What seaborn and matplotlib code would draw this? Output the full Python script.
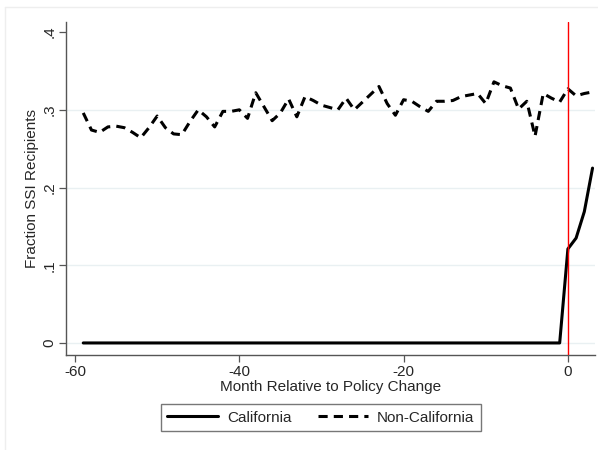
import numpy as np
import pandas as pd
import matplotlib
matplotlib.use("Agg")
import matplotlib.pyplot as plt
import seaborn as sns
from matplotlib.lines import Line2D

# Months relative to the policy change
months = list(range(-59, 4))

# Fraction of SSI recipients, California
california = [0.0] * 59 + [0.121, 0.135, 0.169, 0.225]

# Fraction of SSI recipients, other states
non_california = [
    0.296, 0.274, 0.271, 0.278, 0.279, 0.277, 0.271, 0.264, 0.277, 0.292,
    0.277, 0.269, 0.268, 0.285, 0.300, 0.291, 0.278, 0.298, 0.298, 0.300,
    0.289, 0.322, 0.304, 0.286, 0.296, 0.314, 0.291, 0.317, 0.312, 0.306,
    0.303, 0.300, 0.315, 0.300, 0.310, 0.320, 0.330, 0.308, 0.293, 0.313,
    0.311, 0.304, 0.298, 0.311, 0.311, 0.312, 0.317, 0.319, 0.321, 0.308,
    0.336, 0.331, 0.328, 0.301, 0.311, 0.266, 0.321, 0.315, 0.310, 0.327,
    0.318, 0.321, 0.323,
]

groups = ["California", "Non-California"]
x_ticks = [-60, -40, -20, 0]
y_ticks = [0, 0.1, 0.2, 0.3, 0.4]
y_tick_labels = ["0", ".1", ".2", ".3", ".4"]

df = pd.DataFrame({
    "month": months * 2,
    "frac": california + non_california,
    "group": [groups[0]] * len(months) + [groups[1]] * len(months),
})

sns.set_theme(style="white")
plt.rcParams["font.family"] = ["Liberation Sans", "DejaVu Sans"]

fig = plt.figure(figsize=(5.98, 4.5), dpi=100)
fig.patch.set_facecolor("white")
ax = fig.add_axes([66 / 598, 1 - 355 / 450, (595 - 66) / 598, (355 - 22) / 450])

for yt in y_ticks[:-1]:
    ax.axhline(yt, color="#e9f0f2", lw=1.0, zorder=0)

dash = (3.0, 2.0)
sns.lineplot(data=df[df.group == groups[0]], x="month", y="frac",
             color="black", lw=2.2, ax=ax, legend=False, zorder=3)
sns.lineplot(data=df[df.group == groups[1]], x="month", y="frac",
             color="black", lw=2.2, ax=ax, legend=False, zorder=3,
             dashes=False)
ax.lines[-1].set_dashes(dash)

ax.axvline(0, color="red", lw=1.0, zorder=4)

ax.set_xlim(-61.1, 3.3)
ax.set_ylim(-0.0155, 0.413)
ax.set_xticks(x_ticks)
ax.set_xticklabels([str(t) for t in x_ticks])
ax.set_yticks(y_ticks)
ax.set_yticklabels(y_tick_labels, rotation=90, va="center")

for s in ["top", "right"]:
    ax.spines[s].set_visible(False)
for s in ["left", "bottom"]:
    ax.spines[s].set_color("#555555")
    ax.spines[s].set_linewidth(1.0)

ax.tick_params(axis="both", which="major", direction="out", length=5,
               width=0.9, color="#555555", labelsize=11, pad=2,
               left=True, bottom=True)

ax.set_xlabel("Month Relative to Policy Change", fontsize=11, labelpad=1)
ax.set_ylabel("Fraction SSI Recipients", fontsize=11, labelpad=2)

handles = [
    Line2D([], [], color="black", lw=2.2),
    Line2D([], [], color="black", lw=2.2, dashes=dash),
]
leg = fig.legend(handles, groups, loc="center",
                 bbox_to_anchor=(321 / 598, 1 - 417.5 / 450), ncol=2,
                 frameon=True, fancybox=False, fontsize=11,
                 handlelength=3.3, columnspacing=1.7, borderpad=0.4,
                 handletextpad=0.6)
leg.get_frame().set_edgecolor("#555555")
leg.get_frame().set_linewidth(1.0)

# faint outer graph-region frame
fig.add_artist(Line2D([5 / 598, 5 / 598], [0, 1 - 7 / 450],
                      transform=fig.transFigure, color="#eeeeee", lw=1))
fig.add_artist(Line2D([5 / 598, 1], [1 - 7 / 450, 1 - 7 / 450],
                      transform=fig.transFigure, color="#eeeeee", lw=1))

fig.savefig("out.png", dpi=100)
